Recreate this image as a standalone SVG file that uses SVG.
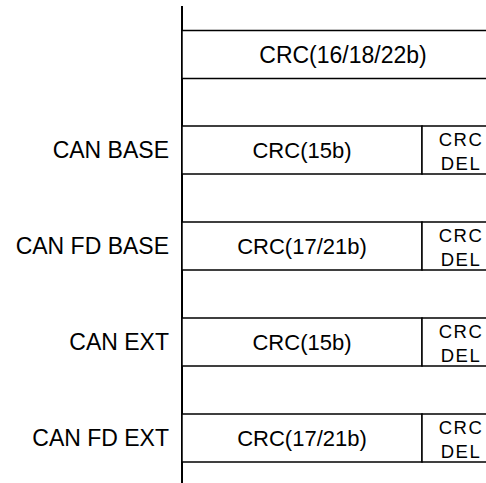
<svg xmlns="http://www.w3.org/2000/svg" width="486" height="483" viewBox="0 0 486 483">
<style>
.box{fill:#fff;stroke:#000;stroke-width:1.5}
.t{font-family:"Liberation Sans",Arial,sans-serif;font-size:22px;fill:#000}
.b{font-size:23px}
.m{text-anchor:middle}
.l{text-anchor:end}
.s{font-family:"Liberation Sans",Arial,sans-serif;font-size:18.5px;fill:#000;text-anchor:middle;letter-spacing:1.5px}
</style>
<rect width="486" height="483" fill="#fff"/>
<g id="connectors">
<line x1="182" y1="6" x2="182" y2="483" stroke="#000" stroke-width="2"/>
</g>
<g id="crc-header">
<rect class="box" x="182" y="30.5" width="320" height="48"/>
<text class="t m b" x="343" y="63">CRC(16/18/22b)</text>
</g>
<g id="can-base">
<text class="t l b" x="169" y="158">CAN BASE</text>
<rect class="box" x="182" y="126" width="240" height="48"/>
<text class="t m" x="302" y="158">CRC(15b)</text>
<rect class="box" x="422" y="126" width="80" height="48"/>
<text class="s" x="461" y="146">CRC</text>
<text class="s" x="461" y="170">DEL</text>
</g>
<g id="can-fd-base">
<text class="t l b" x="169" y="254">CAN FD BASE</text>
<rect class="box" x="182" y="222" width="240" height="48"/>
<text class="t m" x="302" y="254">CRC(17/21b)</text>
<rect class="box" x="422" y="222" width="80" height="48"/>
<text class="s" x="461" y="242">CRC</text>
<text class="s" x="461" y="266">DEL</text>
</g>
<g id="can-ext">
<text class="t l b" x="169" y="350">CAN EXT</text>
<rect class="box" x="182" y="318" width="240" height="48"/>
<text class="t m" x="302" y="350">CRC(15b)</text>
<rect class="box" x="422" y="318" width="80" height="48"/>
<text class="s" x="461" y="338">CRC</text>
<text class="s" x="461" y="362">DEL</text>
</g>
<g id="can-fd-ext">
<text class="t l b" x="169" y="446">CAN FD EXT</text>
<rect class="box" x="182" y="414" width="240" height="48"/>
<text class="t m" x="302" y="446">CRC(17/21b)</text>
<rect class="box" x="422" y="414" width="80" height="48"/>
<text class="s" x="461" y="434">CRC</text>
<text class="s" x="461" y="458">DEL</text>
</g>
</svg>
